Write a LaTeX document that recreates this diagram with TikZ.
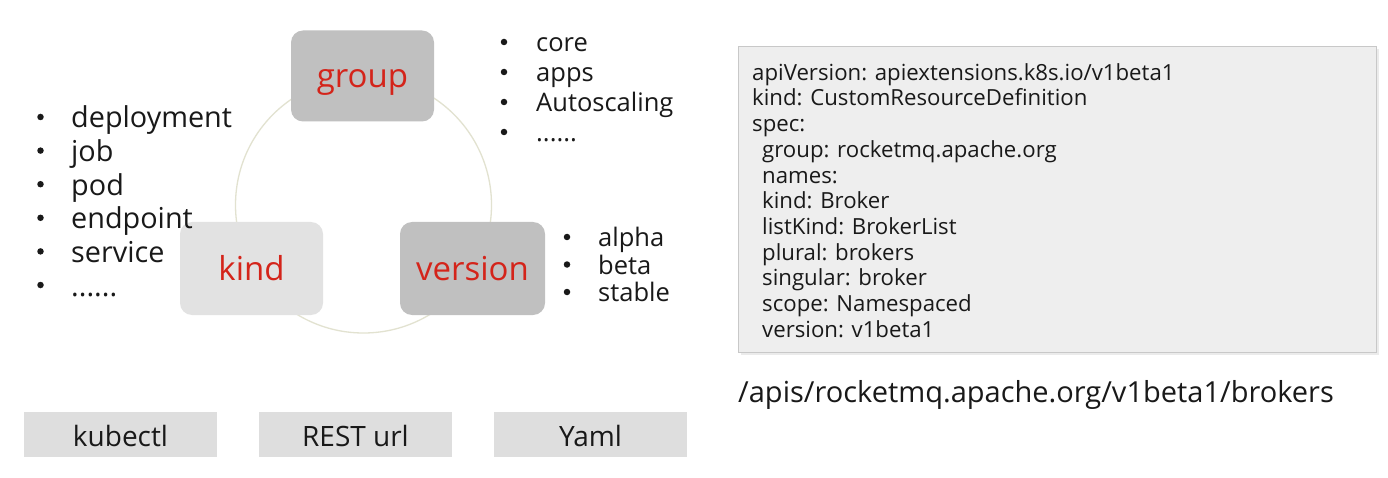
\documentclass[tikz,border=0pt]{standalone}
\usepackage{fontspec}
\setmainfont{Open Sans}
\definecolor{redtxt}{RGB}{212,36,26}
\definecolor{darkbox}{RGB}{192,192,192}
\definecolor{lightbox}{RGB}{226,226,226}
\definecolor{btmbox}{RGB}{222,222,222}
\definecolor{codefill}{RGB}{238,238,238}
\definecolor{codeline}{RGB}{200,200,200}
\definecolor{ringcol}{RGB}{226,226,208}
\definecolor{txt}{RGB}{25,25,25}
\newcommand\sixdots{......}
\begin{document}
\begin{tikzpicture}[x=1pt,y=-1pt,
  keybox/.style={rounded corners=12pt, minimum width=143pt, minimum height=91pt, inner sep=0pt,
     text=redtxt, font=\fontsize{33}{36}\selectfont, text height=23pt, text depth=0pt},
  listitem/.style={anchor=base west, inner sep=0pt, text=txt},
  biglist/.style={listitem, font=\fontsize{28.8}{31}\selectfont},
  midlist/.style={listitem, font=\fontsize{25.5}{28}\selectfont},
  codeitem/.style={listitem, font=\fontsize{22.2}{24}\selectfont},
  bul/.style={circle, fill=txt, inner sep=0pt, minimum size=6.5pt},
  toolbox/.style={fill=btmbox, minimum width=193pt, minimum height=45pt, inner sep=0pt,
     text=txt, font=\fontsize{28}{30}\selectfont, text height=24pt, text depth=0pt}
]
\useasboundingbox (0,0) rectangle (1388,478);
\fill[white] (0,0) rectangle (1388,478);

% ring
\coordinate (ringc) at (363.5,205);
\draw[ringcol, line width=1.3pt] (ringc) circle[radius=128pt];

% key boxes
\node[keybox, fill=darkbox, minimum height=91pt] (group) at (362.5,76) {group};
\node[keybox, fill=lightbox, minimum height=93pt] (kind) at (251.5,268.5) {kind};
\node[keybox, fill=darkbox, minimum width=145pt, minimum height=93pt] (version) at (472.5,268.5) {version};

% kind list
\foreach \t [count=\i] in {deployment,job,pod,endpoint,service,\sixdots}{
  \node[bul] (kb\i) at (40.5,{117+33.6*(\i-1)}) {};
  \node[biglist] (kl\i) at (71,{117+11+33.6*(\i-1)}) {\t};
}

% group list
\foreach \t [count=\i] in {core,apps,Autoscaling,\sixdots}{
  \node[bul] (gb\i) at (504,{42+30*(\i-1)}) {};
  \node[midlist] (gl\i) at (536,{42+9.9+30*(\i-1)}) {\t};
}

% version list
\foreach \t [count=\i] in {alpha,beta,stable}{
  \node[bul] (vb\i) at (567,{237+27.5*(\i-1)}) {};
  \node[midlist] (vl\i) at (598,{237+9.9+27.5*(\i-1)}) {\t};
}

% code box
\fill[black!8] (740.5,49.5) rectangle (1378.5,354.5);
\draw[codeline, fill=codefill, line width=1pt] (738,47) rectangle (1376,352);
\foreach \t/\xx [count=\i] in {{apiVersion: apiextensions.k8s.io/v1beta1}/752,
  {kind: CustomResourceDefinition}/752,
  {spec:}/752,
  {group: rocketmq.apache.org}/762,
  {names:}/762,
  {kind: Broker}/762,
  {listKind: BrokerList}/762,
  {plural: brokers}/762,
  {singular: broker}/762,
  {scope: Namespaced}/762,
  {version: v1beta1}/762}{
  \node[codeitem] (c\i) at (\xx,{72+8.3+25.7*(\i-1)}) {\t};
}

% url
\node[listitem, font=\fontsize{29}{31}\selectfont] (url) at (738,391+11.5) {/apis/rocketmq.apache.org/v1beta1/brokers};

% bottom boxes
\node[toolbox] (kubectl) at (120.5,434.5) {kubectl};
\node[toolbox] (rest) at (355.5,434.5) {REST url};
\node[toolbox] (yaml) at (590.5,434.5) {Yaml};
\end{tikzpicture}
\end{document}
